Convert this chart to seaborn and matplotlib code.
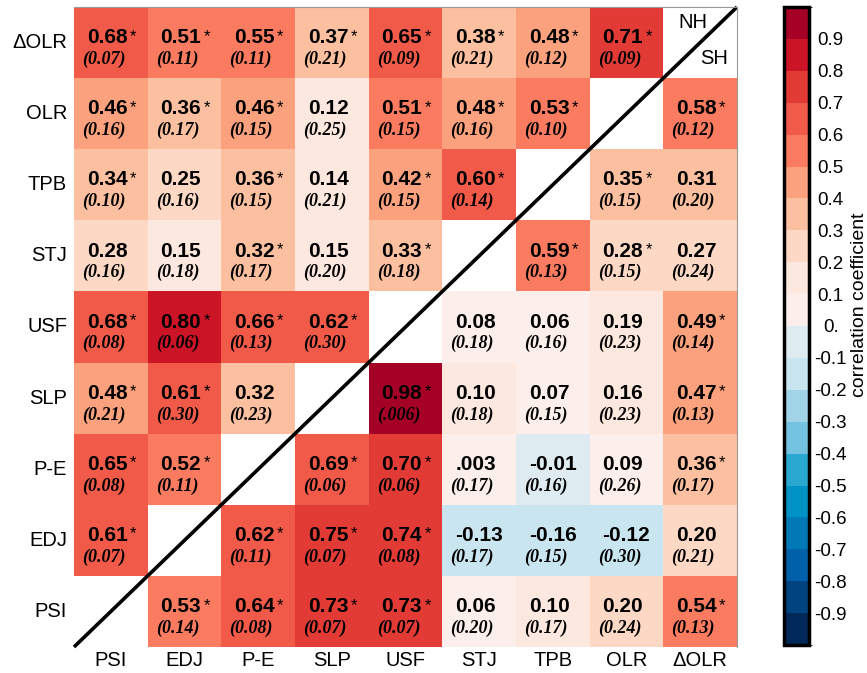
import numpy as np
import pandas as pd
import matplotlib
matplotlib.use("Agg")
import matplotlib.pyplot as plt
from matplotlib.colors import ListedColormap, BoundaryNorm
import seaborn as sns

plt.rcParams["font.family"] = ["Liberation Sans", "DejaVu Sans"]
plt.rcParams["axes.unicode_minus"] = False

# -------------------------------------------------------
# Data: rows top -> bottom, columns left -> right
# -------------------------------------------------------
row_labels = ["ΔOLR", "OLR", "TPB", "STJ", "USF", "SLP", "P-E", "EDJ", "PSI"]
col_labels = ["PSI", "EDJ", "P-E", "SLP", "USF", "STJ", "TPB", "OLR", "ΔOLR"]

nan = np.nan
corr = [
    [0.68, 0.51, 0.55, 0.37, 0.65, 0.38, 0.48, 0.71, nan],
    [0.46, 0.36, 0.46, 0.12, 0.51, 0.48, 0.53, nan, 0.58],
    [0.34, 0.25, 0.36, 0.14, 0.42, 0.60, nan, 0.35, 0.31],
    [0.28, 0.15, 0.32, 0.15, 0.33, nan, 0.59, 0.28, 0.27],
    [0.68, 0.80, 0.66, 0.62, nan, 0.08, 0.06, 0.19, 0.49],
    [0.48, 0.61, 0.32, nan, 0.98, 0.10, 0.07, 0.16, 0.47],
    [0.65, 0.52, nan, 0.69, 0.70, 0.003, -0.01, 0.09, 0.36],
    [0.61, nan, 0.62, 0.75, 0.74, -0.13, -0.16, -0.12, 0.20],
    [nan, 0.53, 0.64, 0.73, 0.73, 0.06, 0.10, 0.20, 0.54],
]
spread = [
    [0.07, 0.11, 0.11, 0.21, 0.09, 0.21, 0.12, 0.09, nan],
    [0.16, 0.17, 0.15, 0.25, 0.15, 0.16, 0.10, nan, 0.12],
    [0.10, 0.16, 0.15, 0.21, 0.15, 0.14, nan, 0.15, 0.20],
    [0.16, 0.18, 0.17, 0.20, 0.18, nan, 0.13, 0.15, 0.24],
    [0.08, 0.06, 0.13, 0.30, nan, 0.18, 0.16, 0.23, 0.14],
    [0.21, 0.30, 0.23, nan, 0.006, 0.18, 0.15, 0.23, 0.13],
    [0.08, 0.11, nan, 0.06, 0.06, 0.17, 0.16, 0.26, 0.17],
    [0.07, nan, 0.11, 0.07, 0.08, 0.17, 0.15, 0.30, 0.21],
    [nan, 0.14, 0.08, 0.07, 0.07, 0.20, 0.17, 0.24, 0.13],
]
signif = [
    [1, 1, 1, 1, 1, 1, 1, 1, 0],
    [1, 1, 1, 0, 1, 1, 1, 0, 1],
    [1, 0, 1, 0, 1, 1, 0, 1, 0],
    [0, 0, 1, 0, 1, 0, 1, 1, 0],
    [1, 1, 1, 1, 0, 0, 0, 0, 1],
    [1, 1, 0, 0, 1, 0, 0, 0, 1],
    [1, 1, 0, 1, 1, 0, 0, 0, 1],
    [1, 0, 1, 1, 1, 0, 0, 0, 0],
    [0, 1, 1, 1, 1, 0, 0, 0, 1],
]

# 20 discrete levels from -1 to 1
level_colors = [
    "#002858", "#004381", "#0060a9", "#0079b6", "#0094c6",
    "#2aa8d2", "#74c3e0", "#a2d4e8", "#c8e5f0", "#deebf1",
    "#fcefeb", "#fde8df", "#fdd8c5", "#fcbf9f", "#fca17d",
    "#fa7b5f", "#f15a48", "#e23b35", "#cc1427", "#a50026",
]
bounds = np.round(np.linspace(-1, 1, 21), 2)
cbar_ticks = np.round(np.arange(-9, 10) / 10, 1)

cmap = ListedColormap(level_colors)
norm = BoundaryNorm(bounds, cmap.N)


def fmt(v):
    if abs(v) < 0.01:
        return f"{v:.3f}".replace("0.", ".", 1)
    return f"{v:.2f}"


df = pd.DataFrame(corr, index=row_labels, columns=col_labels)

# -------------------------------------------------------
# Figure
# -------------------------------------------------------
fig = plt.figure(figsize=(8.67, 6.73), dpi=100)
ax = fig.add_axes([74 / 867, 26 / 673, 663 / 867, 640 / 673])
cax = fig.add_axes([783.5 / 867, 28 / 673, 25 / 867, 638 / 673])

sns.heatmap(
    df,
    ax=ax,
    cbar_ax=cax,
    cmap=cmap,
    norm=norm,
    mask=df.isna(),
    xticklabels=True,
    yticklabels=True,
)

n = len(col_labels)
for r in range(len(row_labels)):
    for c in range(n):
        v = corr[r][c]
        if np.isnan(v):
            continue
        ax.text(c + 0.174, r + 0.51, fmt(v), ha="left", va="baseline",
                fontsize=15, fontweight="bold", color="black")
        if signif[r][c]:
            ax.text(c + 0.758, r + 0.475, "*", ha="left", va="baseline",
                    fontsize=12, color="black")
        ax.text(c + 0.11, r + 0.80, f"({fmt(spread[r][c])})", ha="left",
                va="baseline", fontsize=13, family="Liberation Serif",
                style="italic", fontweight="bold", color="black")

# hemisphere labels in the corner cell
ax.text(n - 0.605, 0.295, "NH", ha="center", va="baseline", fontsize=14.5)
ax.text(n - 0.306, 0.80, "SH", ha="center", va="baseline", fontsize=14.5)

# diagonal separator
ax.plot([0, n], [n, 0], color="black", lw=2.6, clip_on=False,
        solid_capstyle="butt")

ax.tick_params(length=0, labelsize=14.5)
ax.tick_params(axis="x", pad=3)
ax.tick_params(axis="y", pad=5)
ax.set_xticklabels(col_labels, rotation=0)
ax.set_yticklabels(row_labels, rotation=0)
ax.set_xlabel("")
ax.set_ylabel("")
for side in ["top", "right"]:
    ax.spines[side].set_visible(True)
    ax.spines[side].set_color("#999999")
    ax.spines[side].set_linewidth(0.8)

# colorbar
cb = ax.collections[0].colorbar
cb.set_ticks(cbar_ticks)
cb.set_ticklabels(["0." if t == 0 else f"{t:.1f}" for t in cbar_ticks])
cb.outline.set_visible(True)
cb.outline.set_linewidth(2.5)
cb.outline.set_edgecolor("black")
cax.tick_params(length=0, pad=16, labelsize=13.5)
for lbl in cax.get_yticklabels():
    lbl.set_ha("center")

fig.text(859 / 867, 1 - 305 / 673, "correlation coefficient", rotation=90,
         ha="center", va="center", fontsize=14)

fig.savefig("out.png", dpi=100)
